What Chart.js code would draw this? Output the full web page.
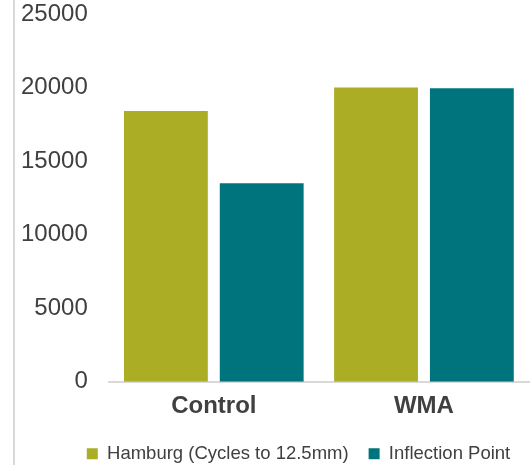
<!DOCTYPE html>
<html>
<head>
<meta charset="utf-8">
<script src="https://cdn.jsdelivr.net/npm/chart.js@4/dist/chart.umd.min.js"></script>
<style>
  html, body { margin: 0; padding: 0; background: #ffffff; }
  #wrap { position: relative; width: 532px; height: 465px; }
</style>
</head>
<body>
<div id="wrap"><canvas id="c" width="532" height="465"></canvas></div>
<script>
const categories = ["Control", "WMA"];
const seriesNames = ["Hamburg (Cycles to 12.5mm)", "Inflection Point"];
const hamburgValues = [18400, 20000];
const inflectionValues = [13500, 19950];
const yTicks = [0, 5000, 10000, 15000, 20000, 25000];

const leftRule = {
  id: 'leftRule',
  beforeDraw(chart) {
    const ctx = chart.ctx;
    ctx.save();
    ctx.fillStyle = '#d9d9d9';
    ctx.fillRect(13, 0, 2, chart.height);
    ctx.restore();
  }
};

const legendTweak = {
  id: 'legendTweak',
  afterLayout(chart) {
    const lg = chart.legend;
    if (lg) { lg.left += 34; lg.right += 34; lg.top -= 6; lg.bottom -= 6; }
  }
};

new Chart(document.getElementById('c'), {
  type: 'bar',
  data: {
    labels: categories,
    datasets: [
      { label: seriesNames[0], data: hamburgValues, backgroundColor: '#abae25', borderWidth: 0 },
      { label: seriesNames[1], data: inflectionValues, backgroundColor: '#00747c', borderWidth: 0 }
    ]
  },
  options: {
    responsive: false,
    animation: false,
    datasets: { bar: { categoryPercentage: 0.912, barPercentage: 0.875 } },
    layout: { padding: { left: 0, right: 3, top: 14, bottom: -14 } },
    plugins: {
      tooltip: { enabled: false },
      legend: {
        position: 'bottom',
        labels: {
          boxWidth: 11, boxHeight: 11, padding: 20,
          color: '#404040',
          font: { family: 'Liberation Sans, Arial, sans-serif', size: 18.5 }
        }
      }
    },
    scales: {
      y: {
        min: 0, max: 25000,
        afterBuildTicks(scale) { scale.ticks = yTicks.map(v => ({ value: v })); },
        afterFit(scale) { scale.paddingTop = 0; scale.paddingBottom = 0; },
        grid: { display: false, drawTicks: false },
        border: { display: false },
        ticks: {
          padding: 21,
          color: '#404040',
          callback: (v) => String(v),
          font: { family: 'Liberation Sans, Arial, sans-serif', size: 24 }
        }
      },
      x: {
        grid: { display: false, drawTicks: false },
        border: { display: true, color: '#d9d9d9', width: 2 },
        ticks: {
          padding: 10,
          color: '#404040',
          font: { family: 'Liberation Sans, Arial, sans-serif', size: 24, weight: 'bold' }
        }
      }
    }
  },
  plugins: [leftRule, legendTweak]
});
</script>
</body>
</html>
